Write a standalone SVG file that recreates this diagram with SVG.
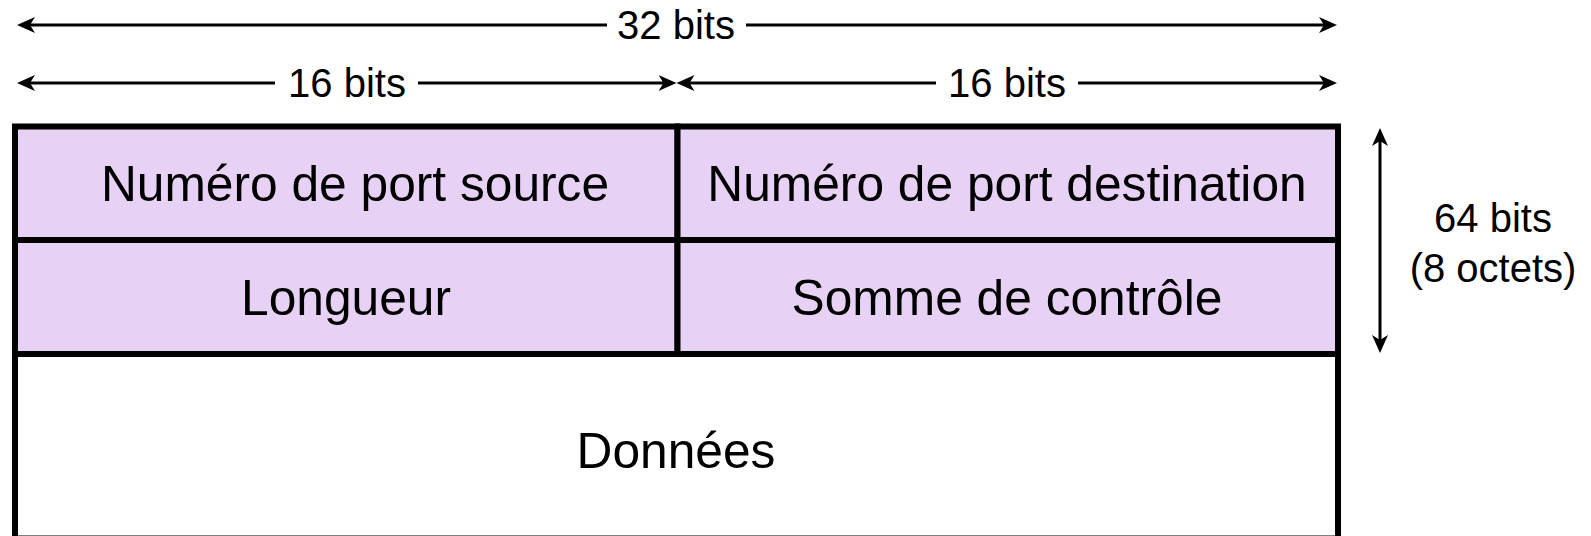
<svg xmlns="http://www.w3.org/2000/svg" width="1591" height="536" viewBox="0 0 1591 536">
  <style>
    .cell { stroke: #000; stroke-width: 6; }
    .hdr { fill: #E7D1F5; }
    .body { fill: #FFFFFF; }
    .lbl { font-family: "Liberation Sans", Arial, Helvetica, sans-serif; font-size: 49.7px; fill: #000; text-anchor: middle; }
    .dim { font-family: "Liberation Sans", Arial, Helvetica, sans-serif; font-size: 40px; fill: #000; text-anchor: middle; }
    .arrow { stroke: #000; stroke-width: 3; fill: none; }
  </style>
  <defs>
    <marker id="head" viewBox="0 0 20 16" refX="10" refY="8" markerWidth="20" markerHeight="16" markerUnits="userSpaceOnUse" orient="auto-start-reverse">
      <path d="M18,8 L0,0 L5,8 L0,16 Z" fill="#000"/>
    </marker>
  </defs>

  <rect width="1591" height="536" fill="#FFFFFF"/>

  <!-- header fields -->
  <g id="src-port">
    <rect class="cell hdr" x="15" y="126.5" width="662.5" height="113.5"/>
    <text class="lbl" x="355" y="201">Numéro de port source</text>
  </g>
  <g id="dst-port">
    <rect class="cell hdr" x="677.5" y="126.5" width="660.5" height="113.5"/>
    <text class="lbl" x="1007" y="201">Numéro de port destination</text>
  </g>
  <g id="length">
    <rect class="cell hdr" x="15" y="240" width="662.5" height="114"/>
    <text class="lbl" x="346" y="315">Longueur</text>
  </g>
  <g id="checksum">
    <rect class="cell hdr" x="677.5" y="240" width="660.5" height="114"/>
    <text class="lbl" x="1007" y="315">Somme de contrôle</text>
  </g>
  <g id="data">
    <rect class="cell body" x="15" y="354" width="1323" height="184.5"/>
    <text class="lbl" x="676" y="468">Données</text>
  </g>

  <!-- dimension arrows -->
  <g id="connectors">
    <line class="arrow" x1="25" y1="25" x2="607" y2="25" marker-start="url(#head)"/>
    <line class="arrow" x1="746" y1="25" x2="1329" y2="25" marker-end="url(#head)"/>

    <line class="arrow" x1="25" y1="83" x2="275" y2="83" marker-start="url(#head)"/>
    <line class="arrow" x1="418" y1="83" x2="668.5" y2="83" marker-end="url(#head)"/>

    <line class="arrow" x1="684.5" y1="83" x2="936" y2="83" marker-start="url(#head)"/>
    <line class="arrow" x1="1078" y1="83" x2="1329" y2="83" marker-end="url(#head)"/>

    <line class="arrow" x1="1380" y1="136" x2="1380" y2="345" marker-start="url(#head)" marker-end="url(#head)"/>
  </g>

  <!-- dimension labels -->
  <g id="labels">
    <text class="dim" x="676" y="39">32 bits</text>
    <text class="dim" x="347" y="97">16 bits</text>
    <text class="dim" x="1007" y="97">16 bits</text>
    <text class="dim" x="1493" y="232">64 bits</text>
    <text class="dim" x="1493" y="282">(8 octets)</text>
  </g>
</svg>
